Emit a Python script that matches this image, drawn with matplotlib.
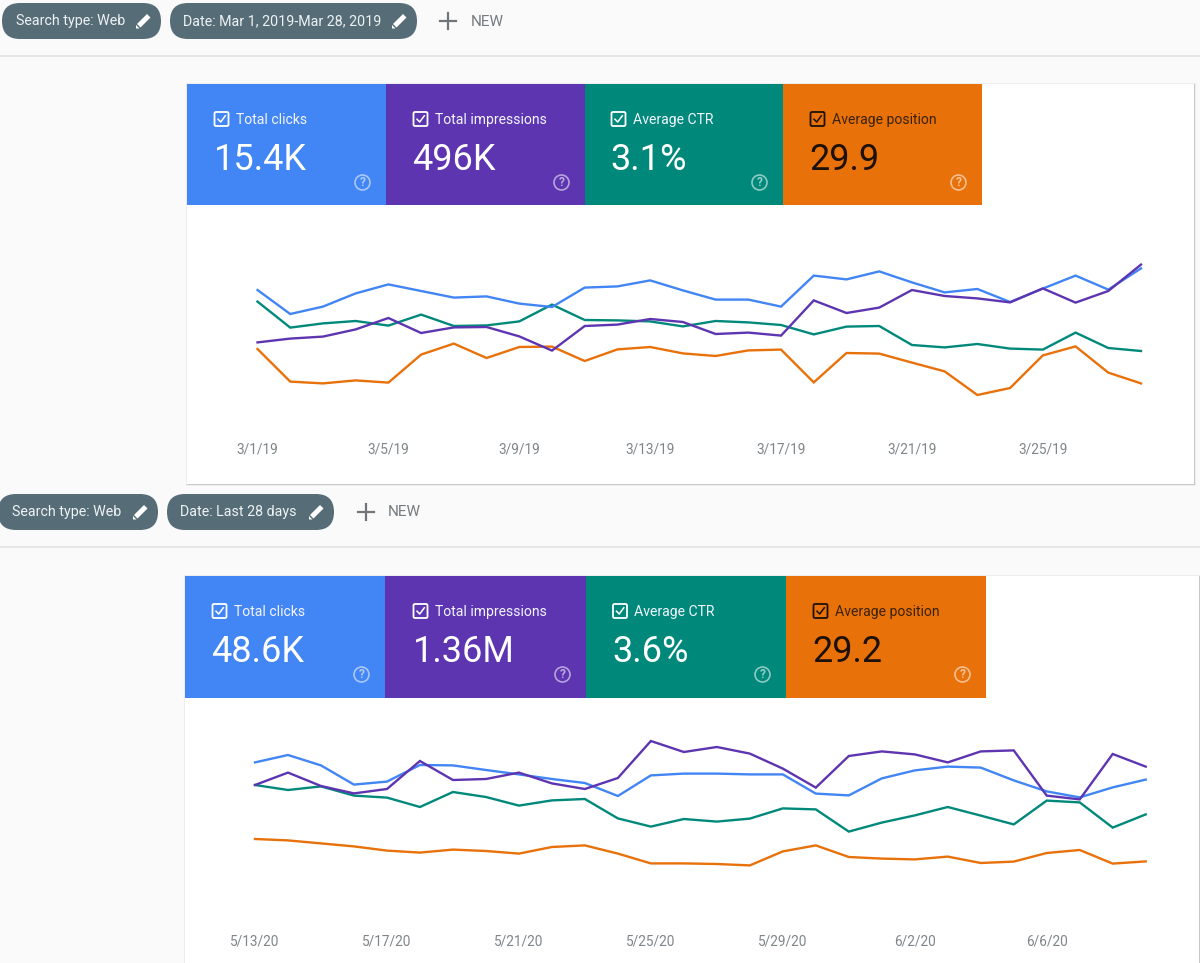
import matplotlib
matplotlib.use("Agg")
import matplotlib.pyplot as plt
from matplotlib.patches import Rectangle, FancyBboxPatch, Circle, Polygon

W, H = 1200, 963

metric_names = ["Total clicks", "Total impressions", "Average CTR", "Average position"]
metric_colors = ["#4285f4", "#5e35b1", "#00897b", "#e8710a"]
values_2019 = ["15.4K", "496K", "3.1%", "29.9"]
values_2020 = ["48.6K", "1.36M", "3.6%", "29.2"]

ticks_2019 = ["3/1/19", "3/5/19", "3/9/19", "3/13/19", "3/17/19", "3/21/19", "3/25/19"]
ticks_2020 = ["5/13/20", "5/17/20", "5/21/20", "5/25/20", "5/29/20", "6/2/20", "6/6/20"]

# daily series, no y axis in the report so these are on a relative 0-100 scale
clicks_2019 = [75.0, 63.0, 66.7, 73.3, 77.8, 74.5, 71.2, 71.8, 68.2, 66.5, 76.2, 76.8, 79.8, 74.8,
               70.2, 70.2, 66.7, 82.2, 80.3, 84.3, 78.8, 73.8, 75.5, 69.0, 75.7, 82.2, 75.2, 85.8]
impressions_2019 = [48.8, 50.7, 51.7, 55.3, 61.0, 53.5, 56.3, 56.5, 51.8, 44.7, 57.0, 57.7, 60.5, 59.0,
                    53.0, 53.7, 52.2, 69.8, 63.5, 66.2, 75.0, 72.0, 70.8, 68.8, 75.8, 68.7, 74.5, 87.7]
ctr_2019 = [69.2, 56.2, 58.3, 59.5, 57.2, 62.7, 57.0, 57.3, 59.3, 67.7, 60.0, 59.8, 59.3, 56.8,
            59.5, 58.8, 57.5, 52.8, 56.7, 57.0, 47.5, 46.3, 48.0, 45.7, 45.2, 53.7, 46.0, 44.5]
position_2019 = [45.5, 29.2, 28.3, 29.8, 28.7, 42.7, 48.2, 41.0, 46.5, 46.7, 39.5, 45.3, 46.5, 43.3,
                 42.0, 44.8, 45.2, 28.8, 43.5, 43.2, 38.7, 34.3, 22.5, 26.0, 42.3, 46.8, 33.7, 28.3]

clicks_2020 = [78.8, 82.5, 77.3, 67.7, 69.2, 77.5, 77.3, 75.0, 72.8, 70.5, 68.5, 62.0, 72.3, 73.2,
               73.2, 72.8, 72.8, 63.2, 62.3, 70.8, 74.8, 76.7, 76.2, 69.8, 64.3, 61.3, 66.3, 70.2]
impressions_2020 = [67.5, 73.7, 67.0, 63.3, 65.5, 79.5, 70.0, 70.5, 73.7, 68.3, 65.5, 71.0, 89.5, 84.0,
                    86.5, 83.2, 75.7, 66.2, 82.0, 84.3, 82.8, 78.8, 84.3, 84.8, 62.2, 60.3, 83.0, 76.7]
ctr_2020 = [67.5, 65.0, 66.8, 62.2, 61.2, 56.5, 64.0, 61.5, 57.2, 59.8, 60.5, 50.8, 46.7, 50.5,
            49.2, 50.7, 55.8, 55.3, 44.2, 48.7, 52.3, 56.5, 52.2, 47.8, 59.7, 58.8, 46.2, 52.8]
position_2020 = [40.5, 39.8, 38.3, 36.8, 34.7, 33.7, 35.2, 34.5, 33.2, 36.5, 37.3, 33.2, 28.3, 28.3,
                 28.0, 27.3, 34.3, 37.3, 31.5, 30.7, 30.3, 31.7, 28.5, 29.2, 33.5, 35.0, 28.2, 29.3]

plt.rcParams["font.family"] = ["Roboto", "DejaVu Sans"]

fig = plt.figure(figsize=(W / 100, H / 100), dpi=100, facecolor="#fafafa")

# page layer in pixel coordinates, for chips, cards and tiles
page = fig.add_axes([0, 0, 1, 1])
page.set_xlim(0, W)
page.set_ylim(H, 0)
page.axis("off")


def pencil(x, y, color="#ffffff"):
    body = [(x - 6.5, y + 4.5), (x + 3.5, y - 5.5), (x + 7, y - 2), (x - 3, y + 8)]
    tip = [(x - 7.5, y + 5.5), (x - 4, y + 9), (x - 7.5, y + 9)]
    page.add_patch(Polygon(body, fc=color, ec="none", zorder=5))
    page.add_patch(Polygon(tip, fc=color, ec="none", zorder=5))


def chip(x0, x1, y, label, text_x):
    page.add_patch(FancyBboxPatch((x0 + 18, y), x1 - x0 - 36, 0,
                                  boxstyle="round,pad=18,rounding_size=18",
                                  fc="#566d78", ec="none", zorder=3))
    page.text(text_x, y, label, color="#eef2f3", fontsize=10.3, va="center", ha="left", zorder=5)
    pencil(x1 - 17.5, y - 1.5)


def add_new(x_plus, x_text, y):
    page.plot([x_plus - 8, x_plus + 8], [y, y], color="#6f7579", lw=1.6, zorder=3)
    page.plot([x_plus, x_plus], [y - 8, y + 8], color="#6f7579", lw=1.6, zorder=3)
    page.text(x_text, y + 0.5, "NEW", color="#757b80", fontsize=11, va="center", ha="left", zorder=3)


def tile(x0, x1, y0, y1, anchor, name, value, color, dark):
    page.add_patch(Rectangle((x0, y0), x1 - x0, y1 - y0, fc=color, ec="none", zorder=2))
    fg = "#1d1107" if dark else "#ffffff"
    label_fg = "#3b2206" if dark else "#f2f5fe"
    cx, cy = anchor + 7.5, y0 + 35
    page.add_patch(FancyBboxPatch((cx - 6, cy - 6), 12, 12, boxstyle="round,pad=1,rounding_size=1.5",
                                  fc="none", ec=fg, lw=1.3, zorder=4))
    page.plot([cx - 3.5, cx - 0.8, cx + 3.8], [cy + 0.2, cy + 3, cy - 3.2], color=fg, lw=1.1, zorder=4)
    page.text(anchor + 22, cy + 0.8, name, color=label_fg, fontsize=10.1, va="center", ha="left", zorder=4)
    page.text(anchor - 0.5, y0 + 76.5, value, color=fg, fontsize=26, va="center", ha="left", zorder=4)
    hx, hy = x1 - 23.5, y0 + 98.5
    page.add_patch(Circle((hx, hy), 7.5, fc="none", ec="#ffffff", lw=1.2, alpha=0.55, zorder=4))
    page.text(hx, hy, "?", color="#ffffff", alpha=0.6, fontsize=8.5, fontweight="bold",
              va="center", ha="center", zorder=4)


def card(x0, x1, y0, y1):
    page.add_patch(Rectangle((x0 - 1.5, y0 - 1), x1 - x0 + 3, y1 - y0 + 3, fc="#ededed", ec="none", zorder=1))
    page.add_patch(Rectangle((x0, y0), x1 - x0 + 1, y1 - y0 + 1, fc="#c9c9c9", ec="none", zorder=1))
    page.add_patch(Rectangle((x0, y0), x1 - x0, y1 - y0, fc="#ffffff", ec="none", zorder=1))


def line_panel(left, right, top, bottom, series, labels, pad):
    ax = fig.add_axes([left / W, 1 - bottom / H, (right - left) / W, (bottom - top) / H])
    ax.patch.set_visible(False)
    for spine in ax.spines.values():
        spine.set_visible(False)
    days = range(len(series[0]))
    # same draw order as the report, impressions over clicks over the rest
    for i in [3, 2, 0, 1]:
        ax.plot(days, series[i], color=metric_colors[i], lw=1.7, clip_on=False, solid_joinstyle="miter")
    ax.set_xlim(0, len(series[0]) - 1)
    ax.set_ylim(0, 100)
    ax.set_yticks([])
    ax.set_xticks(list(days)[::4][:len(labels)])
    ax.set_xticklabels(labels)
    ax.tick_params(axis="x", length=0, pad=pad, labelsize=9.8, labelcolor="#7f8589")
    return ax


# header bars
chip(2, 161, 21, "Search type: Web", 15.5)
chip(170, 417, 21, "Date: Mar 1, 2019-Mar 28, 2019", 183)
add_new(448, 470.5, 21)
page.plot([0, W], [56.5, 56.5], color="#e3e3e3", lw=1.2, zorder=1)

chip(-2, 158, 512, "Search type: Web", 12)
chip(167, 334, 512, "Date: Last 28 days", 180.5)
add_new(366, 388, 512)
page.plot([0, W], [547.5, 547.5], color="#e3e3e3", lw=1.2, zorder=1)

# first report
card(187, 1194, 84, 484)
edges_2019 = [187, 386, 585, 783, 982]
anchors_2019 = [214, 413, 611, 810]
for i in range(4):
    tile(edges_2019[i], edges_2019[i + 1], 84, 205, anchors_2019[i], metric_names[i], values_2019[i],
         metric_colors[i], i == 3)
line_panel(257.5, 1141, 240, 440, [clicks_2019, impressions_2019, ctr_2019, position_2019], ticks_2019, 1.5)

# second report
card(185, 1199, 576, 975)
edges_2020 = [185, 385, 586, 786, 986]
anchors_2020 = [212, 413, 612.5, 813]
for i in range(4):
    tile(edges_2020[i], edges_2020[i + 1], 576, 698, anchors_2020[i], metric_names[i], values_2020[i],
         metric_colors[i], i == 3)
line_panel(255, 1145.7, 720, 920, [clicks_2020, impressions_2020, ctr_2020, position_2020], ticks_2020, 10.5)

fig.savefig("out.png", dpi=100, facecolor=fig.get_facecolor())
